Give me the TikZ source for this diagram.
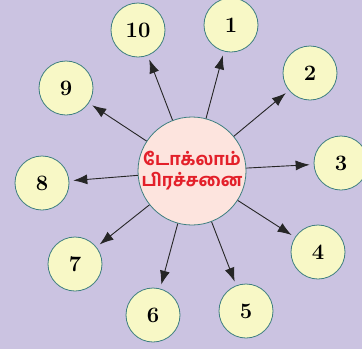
\documentclass[tikz,border=0pt]{standalone}
\usepackage{fontspec}
\newfontfamily\tamilfont[Script=Tamil, BoldFont={Hind Madurai Bold}]{Hind Madurai}
\usetikzlibrary{arrows.meta}
\definecolor{bg}{HTML}{CBC3E1}
\definecolor{ring}{HTML}{3E7F80}
\definecolor{numfill}{HTML}{F8F8C6}
\definecolor{hubfill}{HTML}{FDE4DE}
\definecolor{hubtext}{HTML}{E3202A}
\tikzset{
  numcircle/.style={circle, draw=ring, line width=0.8pt, fill=numfill,
    minimum size=54pt, inner sep=0pt, font=\fontsize{22}{24}\selectfont\bfseries},
  hub/.style={circle, draw=ring, line width=0.8pt, fill=hubfill,
    minimum size=108pt, inner sep=0pt, align=center, text=hubtext,
    font=\fontsize{17.5}{21}\tamilfont\bfseries\selectfont},
  spoke/.style={draw=black!85, line width=0.9pt,
    -{Latex[length=14pt,width=10pt]}, shorten >=4pt}
}
\begin{document}
\begin{tikzpicture}[x=1pt,y=-1pt]
\useasboundingbox (0,0) rectangle (362,349);
\fill[bg] (0,0) rectangle (362,349);
\begin{scope}
\clip (0,0) rectangle (362,349);
\node[hub] (c) at (192,171) {டோக்லாம்\\பிரச்சனை};
\node[numcircle] (n1) at (231,25) {1};
\node[numcircle] (n2) at (310,73) {2};
\node[numcircle] (n3) at (341,163) {3};
\node[numcircle] (n4) at (318,252) {4};
\node[numcircle] (n5) at (246,311) {5};
\node[numcircle] (n6) at (153,315) {6};
\node[numcircle] (n7) at (75,264) {7};
\node[numcircle] (n8) at (42,183) {8};
\node[numcircle] (n9) at (66,88) {9};
\node[numcircle] (n10) at (138,30) {10};
\foreach \i in {1,...,10} {
  \draw[spoke] (c) -- (n\i);
}
\end{scope}
\end{tikzpicture}
\end{document}
